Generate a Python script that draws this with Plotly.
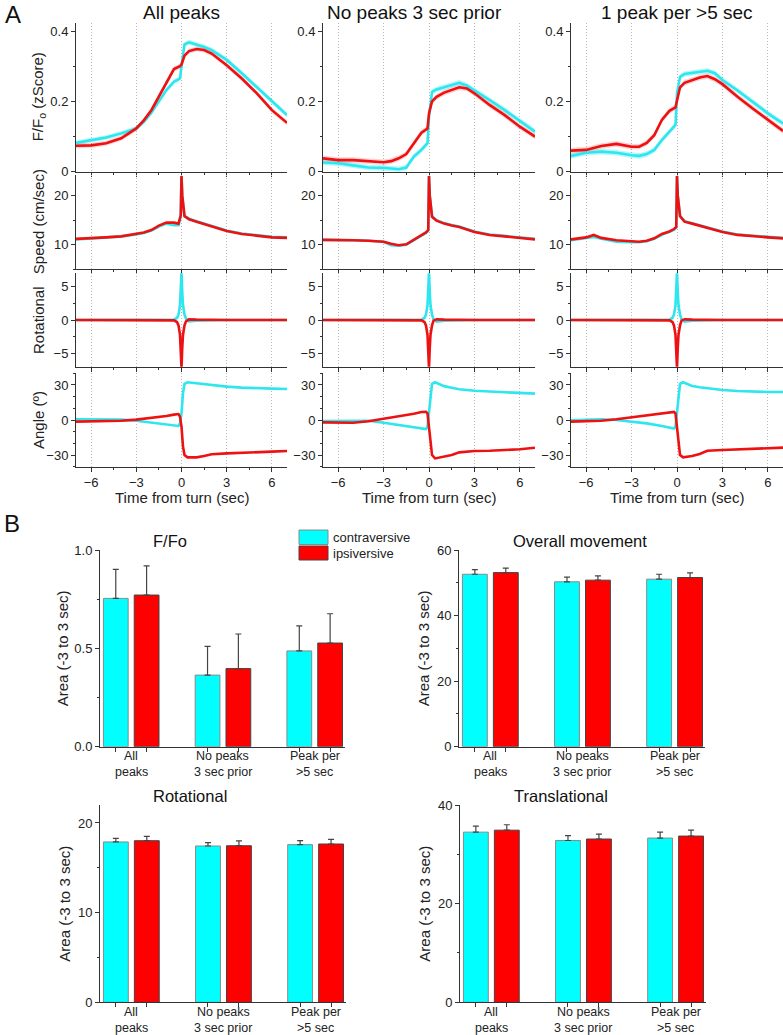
import plotly.graph_objects as go

W, H = 783, 1035
FONT = "Arial, 'Liberation Sans', sans-serif"
CYAN_L = "#2EE6EE"
RED_L = "#EE1111"
CYAN_B = "#00FFFF"
RED_B = "#FF0000"

COL_TITLES = ["All peaks", "No peaks 3 sec prior", "1 peak per >5 sec"]

# ---------- Panel A data ----------
T_FF = [-7, -6, -5, -4, -3, -2.5, -2, -1.5, -1, -0.5, -0.1, 0, 0.2, 0.5, 1, 1.5, 2, 2.5, 3, 4, 5, 6, 7]
FF_CON = [
    [.082, .090, .097, .109, .123, .142, .168, .200, .232, .256, .265, .300, .362, .368, .362, .355, .346, .333, .318, .280, .240, .199, .161],
    [.026, .024, .018, .012, .011, .010, .007, .012, .043, .062, .081, .156, .227, .234, .240, .246, .253, .245, .232, .204, .175, .145, .114],
    [.045, .054, .057, .054, .047, .045, .050, .062, .090, .114, .133, .223, .270, .278, .281, .284, .287, .280, .261, .231, .199, .166, .137],
]
FF_IPS = [
    [.074, .075, .081, .095, .123, .146, .175, .213, .251, .292, .300, .305, .330, .343, .349, .346, .336, .320, .303, .265, .223, .175, .139],
    [.038, .033, .033, .031, .027, .030, .038, .050, .081, .111, .123, .166, .200, .213, .225, .232, .240, .237, .223, .190, .161, .128, .100],
    [.060, .062, .073, .079, .071, .071, .082, .104, .147, .173, .183, .204, .240, .253, .261, .268, .272, .263, .249, .213, .180, .147, .116],
]
FF_SEM = [0.007, 0.008, 0.008]

T_SPD = [-7, -6, -5.5, -5, -4, -3, -2.5, -2, -1.5, -1, -0.5, -0.2, -0.05, 0, 0.05, 0.2, 0.5, 1, 1.5, 2, 3, 4, 5, 6, 7]
SPD_CON = [
    [11.1, 11.3, 11.4, 11.5, 11.7, 12.1, 12.4, 12.9, 13.7, 14.3, 14.0, 14.0, 15.8, 24.0, 20.0, 15.9, 15.3, 14.8, 14.3, 13.8, 12.9, 12.3, 11.9, 11.6, 11.5],
    [11.0, 11.0, 11.0, 10.9, 10.8, 10.6, 9.9, 9.8, 10.0, 10.9, 11.9, 12.4, 12.9, 24.0, 20.0, 15.8, 15.0, 14.4, 14.0, 13.7, 12.7, 12.1, 11.8, 11.5, 11.2],
    [10.9, 11.3, 11.6, 11.2, 10.6, 10.5, 10.5, 10.7, 11.2, 12.0, 12.6, 13.0, 13.5, 24.0, 20.0, 15.9, 14.8, 14.4, 14.0, 13.5, 12.7, 12.1, 11.8, 11.6, 11.4],
]
SPD_IPS = [
    [11.2, 11.3, 11.4, 11.5, 11.7, 12.2, 12.5, 13.0, 13.9, 14.5, 14.5, 14.3, 16.0, 24.0, 20.0, 15.8, 15.2, 14.7, 14.2, 13.7, 12.8, 12.2, 11.8, 11.5, 11.4],
    [11.0, 11.0, 10.95, 10.9, 10.8, 10.6, 10.2, 9.9, 10.1, 11.0, 12.0, 12.5, 13.0, 24.0, 20.0, 15.7, 14.9, 14.3, 13.9, 13.6, 12.6, 12.0, 11.7, 11.4, 11.1],
    [11.1, 11.5, 12.0, 11.4, 10.9, 10.7, 10.6, 10.8, 11.3, 12.2, 12.7, 13.2, 13.6, 24.0, 20.0, 15.8, 14.7, 14.3, 13.9, 13.4, 12.6, 12.0, 11.7, 11.5, 11.3],
]

T_ROT = [-7, -3, -1, -0.5, -0.3, -0.2, -0.1, -0.05, 0, 0.05, 0.1, 0.2, 0.3, 0.5, 1, 3, 7]
ROT_CON = [
    [0, 0, 0, 0.05, 0.3, 0.8, 2.2, 4.2, 7.2, 4.2, 2.2, 0.8, 0.2, -0.2, -0.1, 0, 0],
    [0, 0, 0, 0.05, 0.3, 0.8, 2.2, 4.2, 7.2, 4.2, 2.2, 0.8, 0.1, -0.25, -0.1, 0, 0],
    [0, 0, 0, 0.05, 0.3, 0.8, 2.2, 4.2, 7.2, 4.2, 2.2, 0.8, 0.1, -0.25, -0.1, 0, 0],
]
ROT_IPS = [
    [0, 0, 0, -0.05, -0.3, -0.8, -2.2, -4.2, -7.2, -4.2, -2.2, -0.8, -0.2, 0.1, 0.05, 0, 0],
    [0, 0, 0, -0.05, -0.3, -0.8, -2.2, -4.2, -7.2, -4.2, -2.2, -0.8, -0.1, 0.1, 0.05, 0, 0],
    [0, 0, 0, -0.05, -0.3, -0.8, -2.2, -4.2, -7.2, -4.2, -2.2, -0.8, -0.1, 0.1, 0.05, 0, 0],
]

T_ANG = [-7, -6, -5, -4, -3, -2, -1, -0.5, -0.2, -0.1, 0, 0.1, 0.2, 0.4, 1, 1.5, 2, 3, 4, 5, 6, 7]
ANG_CON = [
    [0.6, 0.6, 0.6, 0.3, -0.6, -2.0, -3.4, -4.6, -5.1, -2.9, 5.7, 23, 30.9, 32.3, 31.4, 30.7, 30.0, 28.6, 27.7, 27.1, 26.9, 26.6],
    [-0.9, -0.9, -0.9, -0.6, -2.3, -4.3, -6.3, -7.4, -7.7, -5.7, 5.7, 20, 30.9, 32.3, 29.0, 27.6, 26.3, 25.0, 24.3, 23.4, 22.9, 22.6],
    [-0.3, 0.3, 0.6, 0.0, -1.4, -2.9, -5.1, -6.9, -7.4, -5.7, 5.7, 20, 30.9, 32.3, 29.1, 28.0, 27.1, 25.7, 24.9, 24.3, 24.0, 24.0],
]
ANG_IPS = [
    [-1.4, -1.3, -1.1, -0.6, 0.3, 1.7, 3.4, 4.6, 5.1, 2.9, -5.7, -23, -30, -32, -32, -30.9, -29.4, -28.6, -28.3, -27.7, -27.1, -26.6],
    [-2.0, -2.1, -2.3, -1.1, 0.9, 2.9, 5.4, 6.9, 7.1, 5.7, -5.7, -21, -30, -32.9, -31.4, -30.0, -27.7, -26.6, -26.3, -25.7, -25.1, -23.7],
    [-1.4, -1.0, -0.6, 0.6, 2.3, 4.3, 5.7, 6.6, 6.9, 5.7, -5.7, -21, -30, -32, -30.9, -29.1, -26.3, -25.7, -25.1, -24.6, -24.3, -23.7],
]

# ---------- Panel B data ----------
GROUP_LINES = [("All", "peaks"), ("No peaks", "3 sec prior"), ("Peak per", ">5 sec")]
BAR_TITLES = ["F/Fo", "Overall movement", "Rotational", "Translational"]
BAR_CON = [[0.754, 0.364, 0.487], [52.6, 50.3, 51.1], [17.88, 17.43, 17.58], [34.5, 32.8, 33.3]]
BAR_CON_ERR = [[0.148, 0.146, 0.127], [1.4, 1.4, 1.5], [0.40, 0.37, 0.44], [1.2, 1.0, 1.2]]
BAR_IPS = [[0.771, 0.397, 0.527], [53.1, 50.8, 51.6], [18.02, 17.46, 17.65], [34.9, 33.1, 33.7]]
BAR_IPS_ERR = [[0.148, 0.176, 0.149], [1.4, 1.3, 1.4], [0.48, 0.53, 0.52], [1.1, 1.0, 1.2]]

# ---------- layout helpers ----------
def px_x(a, b):
    return [a / W, b / W]

def px_y(top, bot):
    return [1 - bot / H, 1 - top / H]

COLS_X = [(76, 287), (323, 535), (571, 783)]
ROWS_Y = [(23, 171.7), (175, 269.3), (273.3, 366.7), (373.3, 466.7)]
ROW_RANGE = [[0, 0.423], [5, 24.2], [-7, 7], [-40, 40]]
ROW_TICKS = [([0, 0.2, 0.4], ["0", "0.2", "0.4"], 0.1),
             ([10, 20], ["10", "20"], 5),
             ([-5, 0, 5], ["\u22125", "0", "5"], 2.5),
             ([-30, 0, 30], ["\u221230", "0", "30"], 10)]
ROW_TITLES = ["F/F<sub>o</sub> (zScore)", "Speed (cm/sec)", "Rotational", "Angle (\u00ba)"]

fig = go.Figure()
layout = {}
annotations = []
shapes = []

tickfont = dict(family=FONT, size=13, color="#222")
GRID_DASH = "1px,2px"

def axname(i, kind):
    return f"{kind}axis" if i == 1 else f"{kind}axis{i}"

def ref(i, kind):
    return kind if i == 1 else f"{kind}{i}"

def paper_text(text, x, y, size, angle=0, xanchor="center", color="#222"):
    annotations.append(dict(text=text, x=x / W, y=1 - y / H, xref="paper", yref="paper",
                            showarrow=False, textangle=angle, xanchor=xanchor, yanchor="middle",
                            font=dict(family=FONT, size=size, color=color)))

series = [(T_FF, FF_CON, FF_IPS), (T_SPD, SPD_CON, SPD_IPS), (T_ROT, ROT_CON, ROT_IPS), (T_ANG, ANG_CON, ANG_IPS)]

for c in range(3):
    for r in range(4):
        i = c * 4 + r + 1
        xr, yr = ref(i, "x"), ref(i, "y")
        t, con, ips = series[r]
        if r == 0:
            sem = FF_SEM[c]
            for vals, fillc in ((con[c], "rgba(0,230,240,0.28)"), (ips[c], "rgba(255,60,60,0.22)")):
                up = [v + sem for v in vals]
                lo = [v - sem for v in vals]
                fig.add_trace(go.Scatter(x=t + t[::-1], y=up + lo[::-1], fill="toself", fillcolor=fillc,
                                         line=dict(width=0), mode="lines", hoverinfo="skip",
                                         showlegend=False, xaxis=xr, yaxis=yr))
        fig.add_trace(go.Scatter(x=t, y=con[c], mode="lines", line=dict(color=CYAN_L, width=2.6),
                                 showlegend=False, xaxis=xr, yaxis=yr))
        fig.add_trace(go.Scatter(x=t, y=ips[c], mode="lines", line=dict(color=RED_L, width=2.6),
                                 showlegend=False, xaxis=xr, yaxis=yr))
        tv, tt, mdt = ROW_TICKS[r]
        layout[axname(i, "x")] = dict(
            domain=px_x(*COLS_X[c]), anchor=yr, range=[-7, 7], automargin=False,
            tickmode="array", tickvals=[-6, -3, 0, 3, 6], ticktext=["\u22126", "\u22123", "0", "3", "6"],
            showticklabels=(r == 3), ticks="outside", ticklen=4, tickcolor="#333",
            minor=dict(tickmode="array", tickvals=[-4.5, -1.5, 1.5, 4.5], ticks="outside", ticklen=2, tickcolor="#333", showgrid=False),
            showgrid=True, gridcolor="#b8b8b8", griddash=GRID_DASH, gridwidth=1,
            showline=True, linecolor="#333", linewidth=1, zeroline=False, tickfont=tickfont,
        )
        layout[axname(i, "y")] = dict(
            domain=px_y(*ROWS_Y[r]), anchor=xr, range=ROW_RANGE[r], automargin=False,
            tickmode="array", tickvals=tv, ticktext=tt, ticks="outside", ticklen=4, tickcolor="#333",
            minor=dict(dtick=mdt, tick0=0, ticks="outside", ticklen=2, tickcolor="#333", showgrid=False),
            showgrid=False, showline=True, linecolor="#333", linewidth=1, zeroline=False, tickfont=tickfont,
        )
        if r == 3:
            paper_text("Time from turn (sec)", (COLS_X[c][0] + COLS_X[c][1]) / 2, 497, 15)
        if c == 0:
            paper_text(ROW_TITLES[r], 38, (ROWS_Y[r][0] + ROWS_Y[r][1]) / 2, 15, angle=-90)
    paper_text(COL_TITLES[c], [181, 414, 677][c], 13, 19, color="#111")

# ---------- Panel B ----------
BAR_X = [(100, 345), (459, 705), (100, 346), (460, 706)]
BAR_Y = [(550, 746.7), (550, 746.7), (805, 1002.3), (805, 1002.3)]
BAR_RANGE = [[0, 1.0], [0, 60], [0, 22], [0, 40]]
BAR_TICKS = [([0, 0.5, 1.0], ["0.0", "0.5", "1.0"], 0.25),
             ([0, 20, 40, 60], ["0", "20", "40", "60"], 10),
             ([0, 10, 20], ["0", "10", "20"], 5),
             ([0, 20, 40], ["0", "20", "40"], 10)]
BAR_TITLE_POS = [(170, 541), (580, 541), (190, 796), (561, 796)]
YT_X = [62, 423, 65, 425]
OFF = 0.168
BW = 0.27
gpos = [1, 2, 3]

for k in range(4):
    i = 13 + k
    xr, yr = ref(i, "x"), ref(i, "y")
    fig.add_trace(go.Bar(x=[g - OFF for g in gpos], y=BAR_CON[k], width=BW,
                         marker=dict(color=CYAN_B, line=dict(color="#8a8a8a", width=1)),
                         error_y=dict(type="data", array=BAR_CON_ERR[k], arrayminus=[0, 0, 0], symmetric=False,
                                      color="#444", thickness=1.2, width=3),
                         showlegend=False, xaxis=xr, yaxis=yr))
    fig.add_trace(go.Bar(x=[g + OFF for g in gpos], y=BAR_IPS[k], width=BW,
                         marker=dict(color=RED_B, line=dict(color="#444", width=1)),
                         error_y=dict(type="data", array=BAR_IPS_ERR[k], arrayminus=[0, 0, 0], symmetric=False,
                                      color="#444", thickness=1.2, width=3),
                         showlegend=False, xaxis=xr, yaxis=yr))
    tv, tt, mdt = BAR_TICKS[k]
    layout[axname(i, "x")] = dict(
        domain=px_x(*BAR_X[k]), anchor=yr, range=[0.66, 3.33], automargin=False,
        tickmode="array", tickvals=[g + s for g in gpos for s in (-OFF, OFF)],
        showticklabels=False,
        ticks="outside", ticklen=4, tickcolor="#333", showgrid=False,
        showline=True, linecolor="#333", linewidth=1, zeroline=False,
    )
    layout[axname(i, "y")] = dict(
        domain=px_y(*BAR_Y[k]), anchor=xr, range=BAR_RANGE[k], automargin=False,
        tickmode="array", tickvals=tv, ticktext=tt, ticks="outside", ticklen=4, tickcolor="#333",
        minor=dict(dtick=mdt, tick0=0, ticks="outside", ticklen=2, tickcolor="#333", showgrid=False),
        showgrid=False, showline=True, linecolor="#333", linewidth=1, zeroline=False, tickfont=tickfont,
    )
    base = BAR_Y[k][1]
    for g, (l1, l2) in zip(gpos, GROUP_LINES):
        for txt, dy in ((l1, 9.5), (l2, 25.5)):
            annotations.append(dict(text=txt, x=g, xref=xr, y=1 - (base + dy) / H, yref="paper",
                                    yanchor="middle", xanchor="center", showarrow=False,
                                    font=dict(family=FONT, size=12.5, color="#222")))
    tx, ty = BAR_TITLE_POS[k]
    paper_text(BAR_TITLES[k], tx, ty, 16.5, color="#111")
    paper_text("Area (-3 to 3 sec)", YT_X[k], (BAR_Y[k][0] + BAR_Y[k][1]) / 2, 15, angle=-90)

# legend (drawn)
LEGEND = [("contraversive", CYAN_B, "#8a8a8a", 530, 544.5), ("ipsiversive", RED_B, "#444", 546, 560)]
for name, fc, lc, y0, y1 in LEGEND:
    shapes.append(dict(type="rect", xref="paper", yref="paper", x0=299 / W, x1=328 / W,
                       y0=1 - y1 / H, y1=1 - y0 / H, fillcolor=fc, line=dict(color=lc, width=1)))
    paper_text(name, 331, (y0 + y1) / 2, 13, xanchor="left")

# panel letters
paper_text("A", 3, 15, 24, xanchor="left", color="#111")
paper_text("B", 2, 523, 24, xanchor="left", color="#111")

fig.update_layout(
    width=W, height=H, autosize=False,
    margin=dict(l=0, r=0, t=0, b=0),
    paper_bgcolor="white", plot_bgcolor="white",
    font=dict(family=FONT, color="#222"),
    annotations=annotations, shapes=shapes, barmode="overlay",
    **layout,
)

fig.write_html("out.html", config={"displayModeBar": False},
               post_script="document.body.style.margin='0';document.body.style.overflow='hidden';")
